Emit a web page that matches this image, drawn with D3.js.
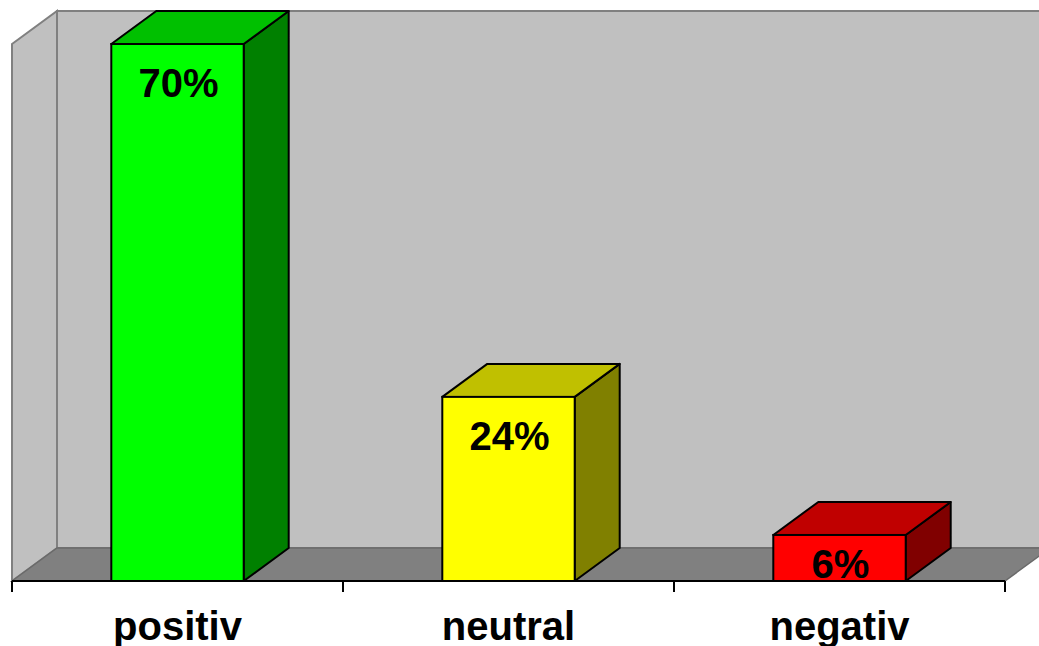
<!DOCTYPE html>
<html>
<head>
<meta charset="utf-8">
<script src="https://cdn.jsdelivr.net/npm/d3@7"></script>
<style>
  body { margin: 0; background: #fff; }
  svg { display: block; }
</style>
</head>
<body>
<svg id="chart" width="1039" height="646"></svg>
<script>
// chart data
const categories = ["positiv", "neutral", "negativ"];
const values = [70, 24, 6];
const labels = ["70%", "24%", "6%"];
const frontColors = ["#00ff00", "#ffff00", "#ff0000"];
const topColors = ["#00c000", "#c0c000", "#c00000"];
const sideColors = ["#008000", "#808000", "#800000"];

const width = 1039, height = 646;
const depth = { dx: 45, dy: -33 };   // 3D offset of the back plane

const svg = d3.select("#chart");

const x = d3.scaleBand()
    .domain(categories)
    .range([12, 1005]);

const y = d3.scaleLinear()
    .domain([0, 70])
    .range([581, 44]);

const line = d3.line();

// back wall
const wallTop = y(70) + depth.dy;
const floorBack = y(0) + depth.dy;
svg.append("path")
    .attr("d", line([[12 + depth.dx, wallTop], [width + 20, wallTop], [width + 20, floorBack], [12 + depth.dx, floorBack]]) + "Z")
    .attr("fill", "#c0c0c0")
    .attr("stroke", "#808080")
    .attr("stroke-width", 2);

// left wall
svg.append("path")
    .attr("d", line([[12, y(70)], [12 + depth.dx, wallTop], [12 + depth.dx, floorBack], [12, y(0)]]) + "Z")
    .attr("fill", "#c0c0c0")
    .attr("stroke", "#808080")
    .attr("stroke-width", 2);

// floor
svg.append("path")
    .attr("d", line([[12, y(0)], [12 + depth.dx, floorBack], [1005 + depth.dx, floorBack], [1005, y(0)]]) + "Z")
    .attr("fill", "#808080")
    .attr("stroke", "#6a6a6a")
    .attr("stroke-width", 1.5);

// category axis
svg.append("line")
    .attr("x1", 12).attr("x2", 1005)
    .attr("y1", y(0)).attr("y2", y(0))
    .attr("stroke", "#000").attr("stroke-width", 2);

const tickPos = categories.map(c => x(c)).concat([x.range()[1]]);
svg.selectAll(".tick")
    .data(tickPos)
    .enter()
    .append("line")
    .attr("x1", d => d).attr("x2", d => d)
    .attr("y1", y(0)).attr("y2", y(0) + 11)
    .attr("stroke", "#000").attr("stroke-width", 2);

svg.selectAll(".cat")
    .data(categories)
    .enter()
    .append("text")
    .attr("x", d => x(d) + x.bandwidth() / 2)
    .attr("y", 640)
    .attr("text-anchor", "middle")
    .attr("font-family", "Liberation Sans, Arial, sans-serif")
    .attr("font-weight", "bold")
    .attr("font-size", 40)
    .text(d => d);

// bars
const barW = x.bandwidth() / 2.5;
const bars = svg.selectAll(".bar")
    .data(values)
    .enter()
    .append("g");

bars.each(function(v, i) {
    const g = d3.select(this);
    const x0 = x(categories[i]) + (x.bandwidth() - barW) / 2;
    const x1 = x0 + barW;
    const yt = y(v), yb = y(0);

    // right side
    g.append("path")
        .attr("d", line([[x1, yt], [x1 + depth.dx, yt + depth.dy], [x1 + depth.dx, yb + depth.dy], [x1, yb]]) + "Z")
        .attr("fill", sideColors[i])
        .attr("stroke", "#000").attr("stroke-width", 2).attr("stroke-linejoin", "round");
    // top
    g.append("path")
        .attr("d", line([[x0, yt], [x0 + depth.dx, yt + depth.dy], [x1 + depth.dx, yt + depth.dy], [x1, yt]]) + "Z")
        .attr("fill", topColors[i])
        .attr("stroke", "#000").attr("stroke-width", 2).attr("stroke-linejoin", "round");
    // front
    g.append("rect")
        .attr("x", x0).attr("y", yt)
        .attr("width", barW).attr("height", yb - yt)
        .attr("fill", frontColors[i])
        .attr("stroke", "#000").attr("stroke-width", 2);

    g.append("text")
        .attr("x", (x0 + x1) / 2 + 1)
        .attr("y", Math.min(yt + 53, yb - 3))
        .attr("text-anchor", "middle")
        .attr("font-family", "Liberation Sans, Arial, sans-serif")
        .attr("font-weight", "bold")
        .attr("font-size", 40)
        .text(labels[i]);
});
</script>
</body>
</html>
